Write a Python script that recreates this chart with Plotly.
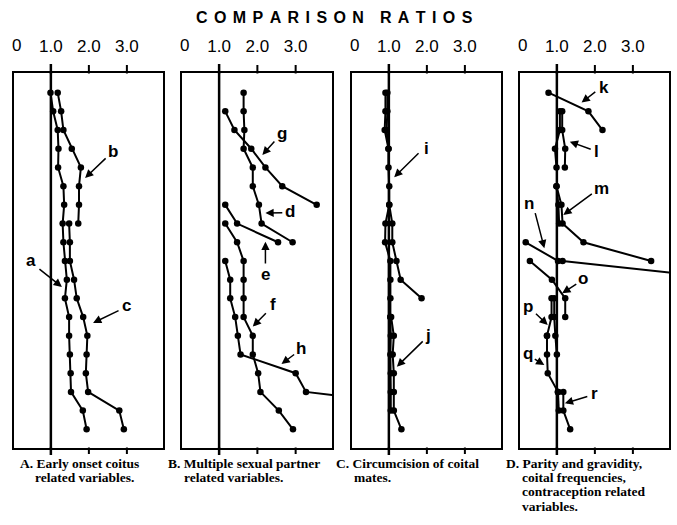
import plotly.graph_objects as go

W, H = 677, 525

# ---------------- data (row index from top, comparison ratio) ----------------
# Panel A: early onset coitus related variables
a_rows = [0, 1, 2, 3, 4, 5, 6, 7, 8, 9, 10, 11, 12, 13, 14, 15, 16, 17, 18]
a_vals = [0.99, 1.06, 1.18, 1.20, 1.19, 1.33, 1.35, 1.31, 1.33, 1.37, 1.42, 1.37, 1.48, 1.48, 1.50, 1.52, 1.53, 1.84, 1.94]
b_rows = [0, 1, 2, 3, 4, 5, 6, 7]
b_vals = [1.18, 1.27, 1.33, 1.55, 1.79, 1.74, 1.74, 1.72]
c_rows = [7, 8, 9, 10, 11, 12, 13, 14, 15, 16, 17, 18]
c_vals = [1.48, 1.50, 1.50, 1.61, 1.68, 1.85, 1.96, 1.94, 1.92, 1.98, 2.80, 2.92]

# Panel B: multiple sexual partner related variables
d_rows = [0, 1, 2, 3, 4, 5, 6, 7, 8]
d_vals = [1.64, 1.64, 1.66, 1.64, 1.88, 1.88, 2.04, 2.11, 2.92]
g_rows = [1, 2, 3, 4, 5, 6]
g_vals = [1.16, 1.40, 1.84, 2.21, 2.65, 3.55]
e_rows = [6, 7, 8]
e_vals = [1.16, 1.47, 2.54]
f_rows = [7, 8, 9, 10, 11, 12, 13, 14, 15, 16, 17, 18]
f_vals = [1.16, 1.47, 1.64, 1.64, 1.64, 1.64, 1.88, 1.88, 2.02, 2.08, 2.56, 2.93]
h_rows = [9, 10, 11, 12, 13, 14, 15, 16, 16.3]
h_vals = [1.16, 1.29, 1.29, 1.42, 1.49, 1.56, 3.00, 3.27, 4.50]

# Panel C: circumcision of coital mates
i_rows = [0, 1, 2, 3, 4, 5, 6, 7, 8, 9, 10, 11, 12]
i_vals = [0.91, 0.91, 0.89, 0.99, 0.99, 1.01, 1.01, 0.91, 0.90, 1.04, 1.04, 1.04, 1.04]
i2_rows = [0, 1, 2, 3]
i2_vals = [0.96, 0.96, 0.94, 0.99]
ib_rows = [6, 7, 8, 9, 10, 11]
ib_vals = [1.01, 1.09, 1.09, 1.20, 1.31, 1.86]
j_rows = [12, 13, 14, 15, 16, 17]
j_vals = [1.04, 1.05, 1.04, 1.05, 1.05, 1.05]
j2_rows = [12, 13, 14, 15, 16, 17, 18]
j2_vals = [1.06, 1.13, 1.10, 1.13, 1.13, 1.13, 1.33]

# Panel D: parity/gravidity, coital frequencies, contraception
k_rows = [0, 1, 2]
k_vals = [0.78, 1.83, 2.20]
l_rows = [1, 2, 3, 4]
l_vals = [1.08, 1.08, 0.95, 0.99]
l2_rows = [1, 2, 3, 4]
l2_vals = [1.14, 1.14, 1.22, 1.21]
m_rows = [5, 6, 7, 8, 9]
m_vals = [0.99, 1.12, 1.15, 1.70, 3.48]
m2_rows = [5, 6, 7]
m2_vals = [0.99, 1.04, 1.06]
n_rows = [8, 9, 9, 9.7]
n_vals = [0.18, 1.03, 1.15, 4.30]
o_rows = [9, 10, 11, 12]
o_vals = [0.29, 0.87, 1.22, 1.22]
p_rows = [11, 12, 13]
p_vals = [0.86, 0.86, 0.74]
p2_rows = [11, 12, 13, 14]
p2_vals = [0.93, 0.93, 0.96, 1.00]
q_rows = [13, 14, 15, 16]
q_vals = [0.74, 0.74, 0.76, 1.03]
r_rows = [16, 17]
r_vals = [1.03, 1.05]
r2_rows = [16, 16, 17, 18]
r2_vals = [1.03, 1.17, 1.17, 1.35]

tick_vals = [1, 2, 3]
tick_text = ["1.0", "2.0", "3.0"]
tick_marks = [2, 3]
ref_value = 1.0

panels = [
    [(a_rows, a_vals), (b_rows, b_vals), (c_rows, c_vals)],
    [(d_rows, d_vals), (g_rows, g_vals), (e_rows, e_vals), (f_rows, f_vals), (h_rows, h_vals)],
    [(i_rows, i_vals), (i2_rows, i2_vals), (ib_rows, ib_vals), (j_rows, j_vals), (j2_rows, j2_vals)],
    [(k_rows, k_vals), (l_rows, l_vals), (l2_rows, l2_vals), (m_rows, m_vals), (m2_rows, m2_vals),
     (n_rows, n_vals), (o_rows, o_vals), (p_rows, p_vals), (p2_rows, p2_vals), (q_rows, q_vals),
     (r_rows, r_vals), (r2_rows, r2_vals)],
]

# label letter (text x, text row, arrow tail x, tail row, arrow head x, head row)
labels = [
    [("b", 2.63, 3.17, 2.48, 3.44, 1.90, 4.56),
     ("a", 0.48, 8.95, 0.66, 9.37, 1.29, 10.39),
     ("c", 3.00, 11.36, 2.82, 11.62, 2.11, 12.31)],
    [("g", 2.65, 2.17, 2.48, 2.53, 2.13, 3.33),
     ("d", 2.86, 6.38, 2.69, 6.42, 2.21, 6.44),
     ("e", 2.21, 9.70, 2.21, 9.21, 2.21, 7.97),
     ("f", 2.41, 11.35, 2.26, 11.71, 1.88, 12.51),
     ("h", 3.13, 13.67, 3.00, 13.94, 2.63, 14.51)],
    [("i", 1.99, 2.97, 1.82, 3.16, 1.14, 4.52),
     ("j", 2.02, 13.01, 1.93, 13.22, 1.21, 14.65)],
    [("k", 2.25, -0.29, 2.05, -0.10, 1.65, 0.53),
     ("l", 2.05, 3.16, 1.93, 3.06, 1.34, 2.62),
     ("m", 2.18, 5.11, 1.96, 5.35, 1.17, 6.54),
     ("n", 0.27, 5.91, 0.42, 6.36, 0.67, 8.32),
     ("o", 1.69, 9.93, 1.55, 10.19, 1.14, 10.73),
     ("p", 0.25, 11.44, 0.41, 11.75, 0.76, 12.42),
     ("q", 0.23, 13.94, 0.38, 14.20, 0.67, 14.56),
     ("r", 1.98, 16.07, 1.84, 16.22, 1.21, 16.61)],
]

captions = [
    [("A. Early onset coitus", 18, 463), ("related variables.", 33, 477)],
    [("B. Multiple sexual partner", 166, 463), ("related variables.", 182, 477)],
    [("C. Circumcision of coital", 334, 463), ("mates.", 352, 477)],
    [("D. Parity and gravidity,", 504, 463), ("coital frequencies,", 520, 477),
     ("contraception related", 520, 491), ("variables.", 520, 506)],
]

x_px = [(14, 163), (182, 332), (352, 501), (520, 669)]
y_px = (73, 448)
XR = [0.03, 3.95]
YR = [19.0, -1.05]


def fx(px):
    return px / W


def fy(py):
    return 1 - py / H


fig = go.Figure()
annotations = []
shapes = []
layout = dict(width=W, height=H, margin=dict(l=0, r=0, t=0, b=0, autoexpand=False),
              paper_bgcolor="white", plot_bgcolor="white", showlegend=False)


def stub(xa, v, y_paper, dy, width):
    # short vertical stroke outside the frame, positioned by the panel's x axis
    return dict(xref=xa, yref="paper", x=v, y=y_paper, ax=0, ay=dy, text="",
                showarrow=True, arrowhead=0, arrowwidth=width, arrowcolor="black",
                standoff=0, startstandoff=0)


for idx, series in enumerate(panels):
    n = idx + 1
    sx = "" if n == 1 else str(n)
    xa, ya = "x" + sx, "y" + sx
    for rows, vals in series:
        fig.add_trace(go.Scatter(x=vals, y=rows, xaxis=xa, yaxis=ya, mode="lines+markers",
                                 line=dict(color="black", width=2),
                                 marker=dict(color="black", size=6.5),
                                 hoverinfo="skip"))
    x0, x1 = x_px[idx]
    layout["xaxis" + sx] = dict(domain=[fx(x0), fx(x1)], range=XR, anchor=ya,
                                tickvals=tick_vals, ticktext=tick_text, ticks="",
                                side="top", showline=True, mirror=True,
                                linewidth=1.5, linecolor="black",
                                showgrid=False, zeroline=False, ticklabelstandoff=12,
                                automargin=False,
                                tickfont=dict(family="Liberation Sans", size=17, color="black"))
    layout["yaxis" + sx] = dict(domain=[fy(y_px[1]), fy(y_px[0])], range=YR, anchor=xa,
                                showticklabels=False, ticks="", showline=True, mirror=True,
                                linewidth=1.5, linecolor="black", showgrid=False, zeroline=False,
                                automargin=False)
    # reference line at ratio 1.0 inside the frame
    shapes.append(dict(type="line", xref=xa, yref="paper", x0=ref_value, x1=ref_value,
                       y0=fy(448), y1=fy(73), line=dict(color="black", width=2.5)))
    # ... and its extensions beyond the frame (top and bottom)
    annotations.append(stub(xa, ref_value, fy(73.5), -11, 2.5))
    annotations.append(stub(xa, ref_value, fy(447.5), 9, 2.5))
    # tick marks at 2.0 and 3.0, top and bottom of each panel
    for tv in tick_marks:
        annotations.append(stub(xa, tv, fy(73.5), -10, 2))
        annotations.append(stub(xa, tv, fy(447.5), 8, 2))
    # "0" tick label
    annotations.append(dict(xref=xa, yref="paper", x=0.1, y=fy(46), text="0",
                            showarrow=False, xanchor="center", yanchor="middle",
                            font=dict(family="Liberation Sans", size=17, color="black")))
    for lab, tx, ty, axx, ayy, hx, hy in labels[idx]:
        annotations.append(dict(xref=xa, yref=ya, x=hx, y=hy, ax=axx, ay=ayy,
                                axref=xa, ayref=ya, text="", showarrow=True,
                                arrowhead=2, arrowsize=1.1, arrowwidth=1.5, arrowcolor="black"))
        annotations.append(dict(xref=xa, yref=ya, x=tx, y=ty, text="<b>%s</b>" % lab,
                                showarrow=False, xanchor="center", yanchor="middle",
                                font=dict(family="Liberation Sans", size=17, color="black")))
    for txt, cx, cy in captions[idx]:
        annotations.append(dict(xref="paper", yref="paper", x=fx(cx), y=fy(cy),
                                text="<b>%s</b>" % txt, showarrow=False,
                                xanchor="left", yanchor="middle",
                                font=dict(family="Liberation Serif", size=13.5, color="black")))

gap = "\u2009\u2009"
title_txt = gap.join(list("COMPARISON")) + "\u2002\u2002" + gap.join(list("RATIOS"))
annotations.append(dict(xref="paper", yref="paper", x=fx(334), y=fy(17), text="<b>%s</b>" % title_txt,
                        showarrow=False, xanchor="center", yanchor="middle",
                        font=dict(family="Liberation Sans", size=16, color="black")))

layout["annotations"] = annotations
layout["shapes"] = shapes
fig.update_layout(**layout)
fig.write_html("out.html", config={"displayModeBar": False},
               post_script="document.body.style.margin='0px';")
